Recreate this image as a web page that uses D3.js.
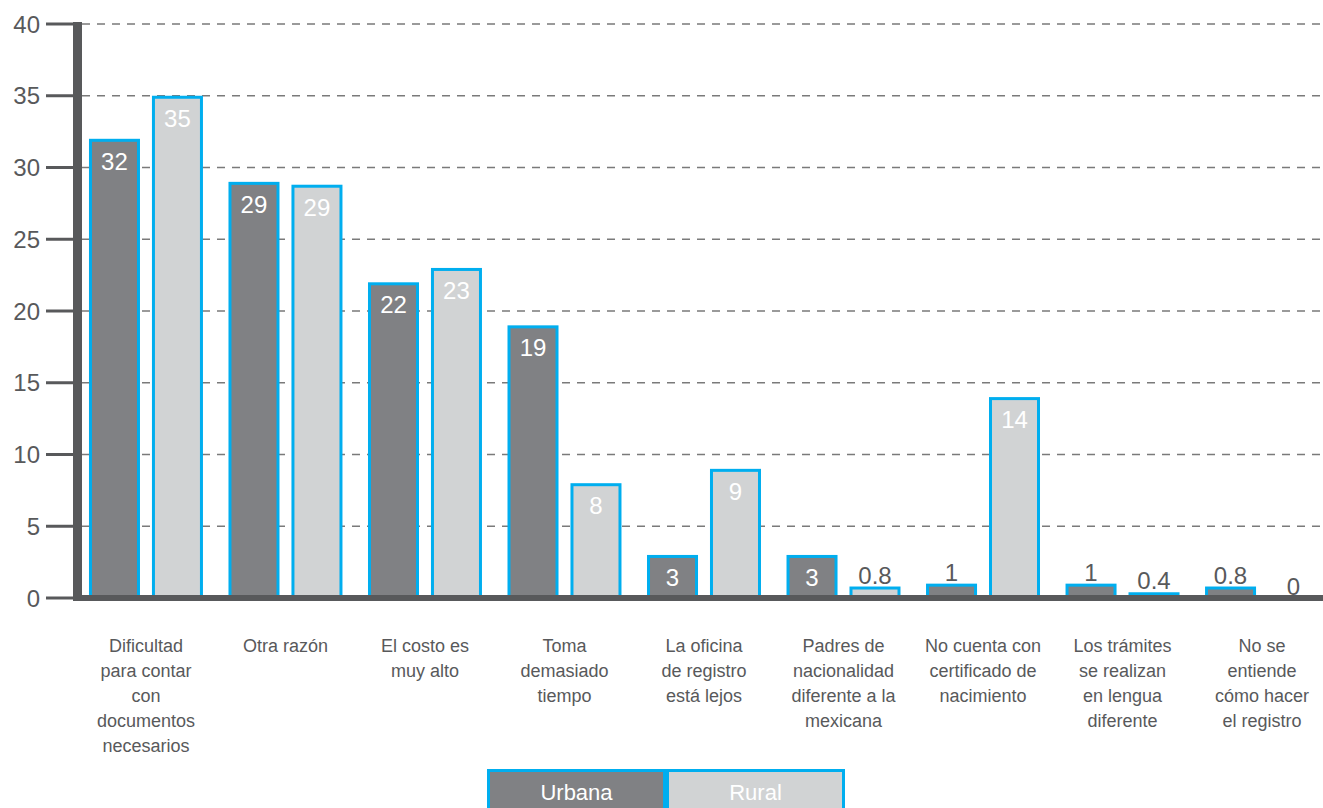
<!DOCTYPE html>
<html>
<head>
<meta charset="utf-8">
<script src="https://cdn.jsdelivr.net/npm/d3@7"></script>
<style>
  html, body { margin: 0; padding: 0; background: #fff; }
  svg { display: block; font-family: "Liberation Sans", Arial, sans-serif; }
</style>
</head>
<body>
<svg id="chart" width="1323" height="808"></svg>
<script>
// ---- data ----
const categories = [
  ["Dificultad", "para contar", "con", "documentos", "necesarios"],
  ["Otra razón"],
  ["El costo es", "muy alto"],
  ["Toma", "demasiado", "tiempo"],
  ["La oficina", "de registro", "está lejos"],
  ["Padres de", "nacionalidad", "diferente a la", "mexicana"],
  ["No cuenta con", "certificado de", "nacimiento"],
  ["Los trámites", "se realizan", "en lengua", "diferente"],
  ["No se", "entiende", "cómo hacer", "el registro"]
];
const seriesNames = ["Urbana", "Rural"];
const urbana = [32, 29, 22, 19, 3, 3, 1, 1, 0.8];
const rural  = [35, 28.8, 23, 8, 9, 0.8, 14, 0.4, 0];
const yTicks = [0, 5, 10, 15, 20, 25, 30, 35, 40];

// ---- styles ----
const colors = { Urbana: "#808184", Rural: "#d1d3d4" };
const strokeBlue = "#00aeef";
const axisColor = "#58595b";
const textColor = "#58595b";

const svg = d3.select("#chart");
const W = 1323;

const catKeys = categories.map(c => c.join(" "));
const x0 = d3.scaleBand().domain(catKeys).range([82, 1326]).paddingInner(0.183).paddingOuter(0.05);
const x1 = d3.scaleBand().domain(seriesNames).range([0, x0.bandwidth()]).paddingInner(0.19).paddingOuter(0);
const y = d3.scaleLinear().domain([0, 40]).range([598, 24]);

// gridlines
svg.append("g").selectAll("line").data(yTicks.filter(t => t > 0)).join("line")
  .attr("x1", 82).attr("x2", W)
  .attr("y1", d => y(d)).attr("y2", d => y(d))
  .attr("stroke", "#7a7a7a").attr("stroke-width", 1.4).attr("stroke-dasharray", "8,7");

// bars
const rows = catKeys.map((k, i) => ({ key: k, values: [
  { s: "Urbana", v: urbana[i] }, { s: "Rural", v: rural[i] } ] }));

const groups = svg.append("g").selectAll("g").data(rows).join("g")
  .attr("transform", d => `translate(${x0(d.key)},0)`);

groups.selectAll("rect").data(d => d.values).join("rect")
  .attr("x", d => x1(d.s) + 1.5)
  .attr("width", x1.bandwidth() - 3)
  .attr("y", d => y(d.v) + 1.5)
  .attr("height", d => Math.max(0, y(0) - y(d.v) - 1.5))
  .attr("fill", d => colors[d.s])
  .attr("stroke", strokeBlue).attr("stroke-width", 3);

const fmt = v => v >= 1 ? String(Math.round(v)) : String(v);
groups.selectAll("text").data(d => d.values).join("text")
  .attr("x", d => x1(d.s) + x1.bandwidth() / 2)
  .attr("y", d => d.v >= 3 ? y(d.v) + 31 : y(d.v) - 3)
  .attr("text-anchor", "middle")
  .attr("font-size", 24)
  .attr("fill", d => d.v >= 3 ? "#ffffff" : textColor)
  .text(d => fmt(d.v));

// y axis
const yAxis = svg.append("g");
yAxis.selectAll("line.tick").data(yTicks).join("line")
  .attr("class", "tick")
  .attr("x1", 46).attr("x2", 78)
  .attr("y1", d => y(d)).attr("y2", d => y(d))
  .attr("stroke", axisColor).attr("stroke-width", 3);
yAxis.selectAll("text").data(yTicks).join("text")
  .attr("x", 40).attr("y", d => y(d))
  .attr("dy", "0.36em")
  .attr("text-anchor", "end")
  .attr("font-size", 24)
  .attr("fill", textColor)
  .text(d => d);
// axis lines
svg.append("line").attr("x1", 73).attr("x2", W).attr("y1", y(0)).attr("y2", y(0))
  .attr("stroke", axisColor).attr("stroke-width", 6);
svg.append("line").attr("x1", 77.5).attr("x2", 77.5).attr("y1", y(40) - 2).attr("y2", y(0) + 3)
  .attr("stroke", axisColor).attr("stroke-width", 9);

// x labels
const xl = svg.append("g").selectAll("text").data(categories).join("text")
  .attr("x", (d, i) => x0(catKeys[i]) + x0.bandwidth() / 2)
  .attr("y", 652)
  .attr("text-anchor", "middle")
  .attr("font-size", 18)
  .attr("fill", textColor);
xl.selectAll("tspan").data(d => d).join("tspan")
  .attr("x", function () { return d3.select(this.parentNode).attr("x"); })
  .attr("dy", (d, i) => i === 0 ? 0 : 25)
  .text(d => d);

// legend
const legX = d3.scaleBand().domain(seriesNames).range([487, 845]);
const leg = svg.append("g");
leg.selectAll("rect").data(seriesNames).join("rect")
  .attr("x", d => legX(d) + 1.5).attr("y", 770.5)
  .attr("width", legX.bandwidth() - 3).attr("height", 50)
  .attr("fill", d => colors[d])
  .attr("stroke", strokeBlue).attr("stroke-width", 3);
leg.selectAll("text").data(seriesNames).join("text")
  .attr("x", d => legX(d) + legX.bandwidth() / 2)
  .attr("y", 800)
  .attr("text-anchor", "middle")
  .attr("font-size", 22)
  .attr("fill", "#ffffff")
  .text(d => d);
</script>
</body>
</html>
